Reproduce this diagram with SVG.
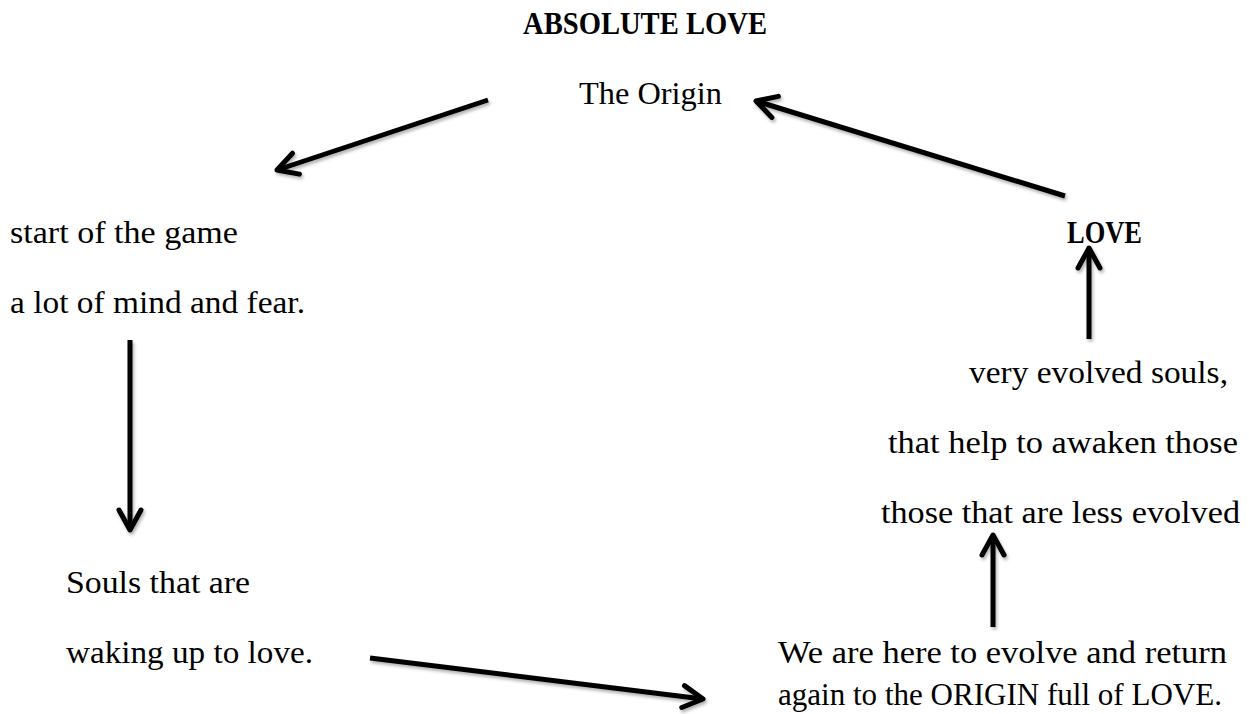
<svg xmlns="http://www.w3.org/2000/svg" width="1249" height="714" viewBox="0 0 1249 714">
  <style>
    .t { font-family: "Liberation Serif", "DejaVu Serif", serif; font-size: 31px; fill: #000; }
    .b { font-weight: bold; }
    .c { fill: none; stroke: #000; stroke-width: 5; stroke-linecap: butt; }
  </style>
  <defs>
    <filter id="sh" x="-20%" y="-20%" width="140%" height="140%">
      <feDropShadow dx="1.5" dy="2.5" stdDeviation="1.5" flood-color="#000" flood-opacity="0.3"/>
    </filter>
    <marker id="ah" markerUnits="userSpaceOnUse" markerWidth="40" markerHeight="40" viewBox="-30 -20 40 40" refX="0" refY="0" orient="auto">
      <path d="M-20,-11 L0,0 L-20,11" fill="none" stroke="#000" stroke-width="5" stroke-linejoin="round" stroke-linecap="round"/>
    </marker>
  </defs>
  <rect width="1249" height="714" fill="#fff"/>

  <g id="absolute-love">
    <text class="t b" x="523" y="34" font-size="28" textLength="244" lengthAdjust="spacingAndGlyphs">ABSOLUTE LOVE</text>
  </g>
  <g id="origin">
    <text class="t" x="579" y="104" font-size="32" textLength="143" lengthAdjust="spacingAndGlyphs">The Origin</text>
  </g>
  <g id="start">
    <text class="t" x="10" y="243" font-size="32" textLength="228" lengthAdjust="spacingAndGlyphs">start of the game</text>
    <text class="t" x="10" y="313" font-size="32" textLength="295" lengthAdjust="spacingAndGlyphs">a lot of mind and fear.</text>
  </g>
  <g id="love">
    <text class="t b" x="1067" y="243" font-size="30" textLength="75" lengthAdjust="spacingAndGlyphs">LOVE</text>
  </g>
  <g id="evolved">
    <text class="t" x="969" y="383" textLength="259" lengthAdjust="spacingAndGlyphs">very evolved souls,</text>
    <text class="t" x="888" y="453" textLength="350" lengthAdjust="spacingAndGlyphs">that help to awaken those</text>
    <text class="t" x="881" y="523" textLength="359" lengthAdjust="spacingAndGlyphs">those that are less evolved</text>
  </g>
  <g id="waking">
    <text class="t" x="66" y="593" font-size="32" textLength="184" lengthAdjust="spacingAndGlyphs">Souls that are</text>
    <text class="t" x="66" y="663" font-size="32" textLength="247" lengthAdjust="spacingAndGlyphs">waking up to love.</text>
  </g>
  <g id="here">
    <text class="t" x="778" y="663" textLength="449" lengthAdjust="spacingAndGlyphs">We are here to evolve and return</text>
    <text class="t" x="778" y="705" textLength="444" lengthAdjust="spacingAndGlyphs">again to the ORIGIN full of LOVE.</text>
  </g>

  <g id="connectors" filter="url(#sh)">
    <line class="c" x1="488" y1="100" x2="277" y2="170" marker-end="url(#ah)"/>
    <line class="c" x1="1065" y1="196" x2="756" y2="101" marker-end="url(#ah)"/>
    <line class="c" x1="130" y1="340" x2="130" y2="530" marker-end="url(#ah)"/>
    <line class="c" x1="1089" y1="339" x2="1089" y2="248" marker-end="url(#ah)"/>
    <line class="c" x1="993" y1="627" x2="993" y2="535" marker-end="url(#ah)"/>
    <line class="c" x1="370" y1="658" x2="703" y2="699" marker-end="url(#ah)"/>
  </g>
</svg>
